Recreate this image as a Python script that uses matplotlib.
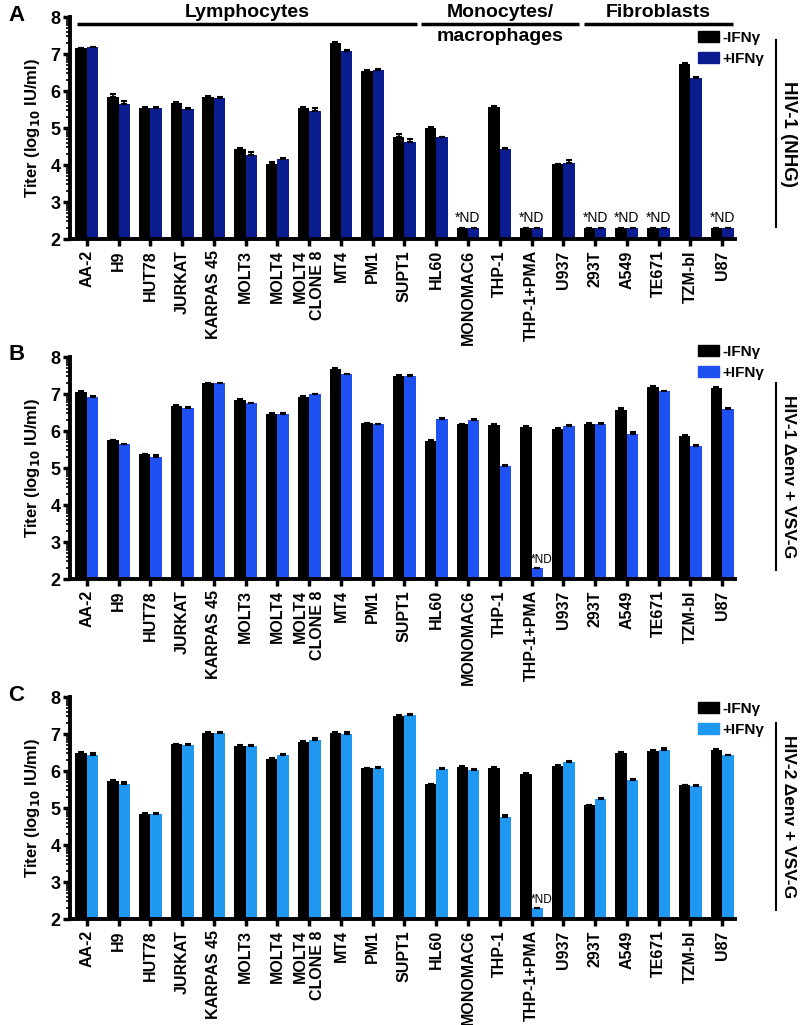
import numpy as np
import matplotlib.pyplot as plt
from matplotlib.patches import Patch
from matplotlib.lines import Line2D

plt.rcParams['font.family'] = ['Liberation Sans', 'DejaVu Sans']
plt.rcParams['font.weight'] = 'bold'

cells = ['AA-2', 'H9', 'HUT78', 'JURKAT', 'KARPAS 45', 'MOLT3', 'MOLT4',
         'MOLT4\nCLONE 8', 'MT4', 'PM1', 'SUPT1', 'HL60', 'MONOMAC6', 'THP-1',
         'THP-1+PMA', 'U937', '293T', 'A549', 'TE671', 'TZM-bl', 'U87']

# None = not detected (*ND)
a_minus = [7.15, 5.85, 5.55, 5.68, 5.83, 4.42, 4.03, 5.53, 7.30, 6.55, 4.75,
           5.00, None, 5.57, None, 4.02, None, None, None, 6.73, None]
a_plus = [7.18, 5.65, 5.55, 5.52, 5.80, 4.27, 4.15, 5.47, 7.08, 6.57, 4.63,
          4.75, None, 4.43, None, 4.05, None, None, None, 6.35, None]
a_minus_err = [0.02, 0.07, 0.02, 0.03, 0.03, 0.04, 0.06, 0.03, 0.03, 0.03, 0.10,
               0.02, 0, 0.02, 0, 0.02, 0, 0, 0, 0.02, 0]
a_plus_err = [0.02, 0.07, 0.03, 0.02, 0.03, 0.07, 0.03, 0.06, 0.04, 0.03, 0.07,
              0.02, 0, 0.02, 0, 0.08, 0, 0, 0, 0.03, 0]

b_minus = [7.05, 5.75, 5.37, 6.67, 7.29, 6.85, 6.47, 6.93, 7.67, 6.21, 7.50,
           5.74, 6.18, 6.17, 6.12, 6.05, 6.20, 6.58, 7.20, 5.87, 7.17]
b_plus = [6.93, 5.64, 5.29, 6.63, 7.29, 6.75, 6.47, 6.99, 7.53, 6.18, 7.48,
          6.32, 6.31, 5.06, None, 6.13, 6.20, 5.93, 7.07, 5.60, 6.60]
b_minus_err = [0.02, 0.02, 0.02, 0.02, 0.02, 0.02, 0.02, 0.02, 0.02, 0.02, 0.02,
               0.02, 0.02, 0.02, 0.02, 0.02, 0.02, 0.04, 0.02, 0.02, 0.02]
b_plus_err = [0.02, 0.02, 0.05, 0.02, 0.02, 0.02, 0.03, 0.02, 0.02, 0.02, 0.03,
              0.02, 0.02, 0.02, 0, 0.02, 0.02, 0.03, 0.02, 0.02, 0.02]

c_minus = [6.50, 5.74, 4.84, 6.72, 7.03, 6.68, 6.32, 6.78, 7.04, 6.07, 7.50,
           5.64, 6.12, 6.09, 5.93, 6.13, 5.07, 6.50, 6.55, 5.61, 6.58]
c_plus = [6.44, 5.66, 4.84, 6.71, 7.02, 6.68, 6.42, 6.84, 7.01, 6.07, 7.52,
          6.05, 6.04, 4.77, None, 6.24, 5.24, 5.76, 6.56, 5.59, 6.42]
c_minus_err = [0.02, 0.02, 0.02, 0.02, 0.02, 0.02, 0.02, 0.02, 0.02, 0.02, 0.02,
               0.02, 0.02, 0.02, 0.02, 0.02, 0.02, 0.02, 0.02, 0.02, 0.02]
c_plus_err = [0.05, 0.03, 0.03, 0.02, 0.03, 0.02, 0.03, 0.04, 0.04, 0.03, 0.03,
              0.02, 0.02, 0.03, 0, 0.02, 0.02, 0.02, 0.05, 0.02, 0.02]

nd_level = 2.3
groups = [('Lymphocytes', -0.3, 10.39), ('Monocytes/', 10.51, 15.51),
          ('Fibroblasts', 15.64, 20.33)]

panels = [
    ('A', a_minus, a_plus, a_minus_err, a_plus_err, '#0b1c8f', 'HIV-1 (NHG)'),
    ('B', b_minus, b_plus, b_minus_err, b_plus_err, '#1e50f2', 'HIV-1 \u0394env + VSV-G'),
    ('C', c_minus, c_plus, c_minus_err, c_plus_err, '#1e98f0', 'HIV-2 \u0394env + VSV-G'),
]
# axes boxes in figure fractions: bottom, top
boxes = [(0.7668, 0.9834), (0.4351, 0.6517), (0.1034, 0.3200)]
right_lines = [(40, 227), (383, 570), (723, 910)]
letter_y = [5, 344, 685]
legend_top = [31, 345, 702]

fig = plt.figure(figsize=(8, 10.25), dpi=100)
x = np.arange(len(cells))
w = 0.36

for i, (letter, minus, plus, merr, perr, blue, name) in enumerate(panels):
    bot, top = boxes[i]
    ax = fig.add_axes([0.0875, bot, 0.831, top - bot])
    m_vals = np.array([nd_level if v is None else v for v in minus])
    p_vals = np.array([nd_level if v is None else v for v in plus])
    ax.bar(x - w / 2, m_vals, w, color='black', zorder=2)
    ax.bar(x + w / 2, p_vals, w, color=blue, zorder=2)
    ax.errorbar(x - w / 2, m_vals, yerr=[np.zeros(len(x)), merr], fmt='none',
                ecolor='black', elinewidth=1.2, capsize=2.5, capthick=1.5, zorder=3)
    ax.errorbar(x + w / 2, p_vals, yerr=[np.zeros(len(x)), perr], fmt='none',
                ecolor='black', elinewidth=1.2, capsize=2.5, capthick=1.5, zorder=3)

    # *ND labels
    for j in range(len(x)):
        if minus[j] is None and plus[j] is None:
            ax.text(x[j], nd_level + 0.08, '*ND', ha='center', va='bottom',
                    fontsize=10, fontweight='normal')
        elif plus[j] is None:
            ax.text(x[j] + w / 2 + 0.15, nd_level + 0.05, '*ND', ha='center',
                    va='bottom', fontsize=8.5, fontweight='normal')

    ax.set_ylim(2, 8)
    ax.set_xlim(-0.53, 20.4)
    ax.set_yticks(range(2, 9))
    minor = [n + np.log10(k) for n in range(2, 8) for k in range(2, 10)]
    ax.set_yticks(minor, minor=True)
    ax.tick_params(axis='y', which='major', labelsize=13, width=2.5, length=5, pad=2)
    ax.tick_params(axis='y', which='minor', width=1.2, length=3)
    ax.set_xticks(x)
    ax.set_xticklabels(cells, rotation=90, fontsize=11.5, fontweight='bold',
                       ma='right')
    ax.tick_params(axis='x', width=2.5, length=5, pad=3)
    for s in ['top', 'right']:
        ax.spines[s].set_visible(False)
    for s in ['left', 'bottom']:
        ax.spines[s].set_linewidth(2.8)
    ax.set_ylabel('Titer (log$_{\\mathbf{10}}$ IU/ml)', fontsize=12,
                  fontweight='bold', labelpad=6)

    handles = [Patch(color='black', label='-IFN\u03b3'),
               Patch(color=blue, label='+IFN\u03b3')]
    ly = 1 - (legend_top[i] - (1 - top) * 1025) / ((top - bot) * 1025)
    ax.legend(handles=handles, loc='upper left', frameon=False,
              bbox_to_anchor=((698 - 70) / 665, ly), borderaxespad=0,
              borderpad=0, handlelength=1.4, handleheight=0.7,
              handletextpad=0.2, labelspacing=0.45,
              prop={'size': 11, 'weight': 'bold'})

    if letter == 'A':
        for label, x0, x1 in groups:
            ax.plot([x0, x1], [7.81, 7.81], color='black', lw=2.5,
                    clip_on=False, solid_capstyle='butt')
            ax.text((x0 + x1) / 2, 8.13, label, ha='center', va='center',
                    fontsize=14, fontweight='bold')
        ax.text((groups[1][1] + groups[1][2]) / 2, 7.46, 'macrophages',
                ha='center', va='center', fontsize=14, fontweight='bold')

    fig.text(8 / 800, 1 - letter_y[i] / 1025, letter, ha='left', va='top',
             fontsize=16, fontweight='bold')
    y0, y1 = right_lines[i]
    fig.add_artist(Line2D([776 / 800, 776 / 800], [1 - y0 / 1025, 1 - y1 / 1025],
                          color='black', lw=1.5))
    fig.text(788 / 800, 1 - (y0 + y1) / 2 / 1025, name, rotation=270,
             ha='center', va='center', fontsize=13.5 if letter == 'A' else 12.5,
             fontweight='bold')

fig.savefig('out.png', dpi=100)
